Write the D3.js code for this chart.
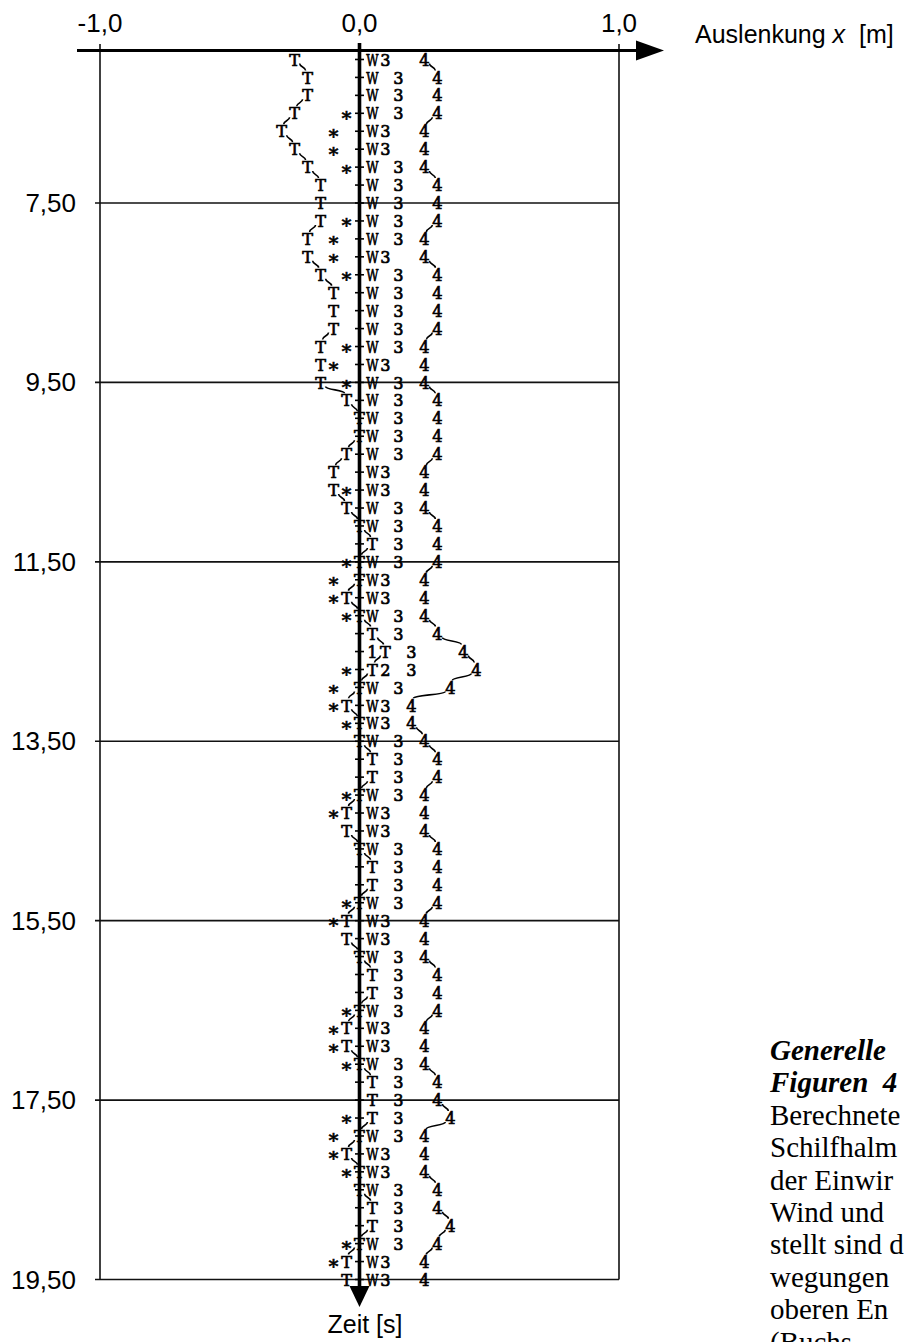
<!DOCTYPE html>
<html>
<head>
<meta charset="utf-8">
<script src="https://cdn.jsdelivr.net/npm/d3@7"></script>
<style>
  body { margin: 0; background: #fff; }
</style>
</head>
<body>
<script>
// Data: one printed row every 0.2 s
const times = [
  5.9, 6.1, 6.3, 6.5, 6.7, 6.9, 7.1, 7.3, 7.5, 7.7,
  7.9, 8.1, 8.3, 8.5, 8.7, 8.9, 9.1, 9.3, 9.5, 9.7,
  9.9, 10.1, 10.3, 10.5, 10.7, 10.9, 11.1, 11.3, 11.5, 11.7,
  11.9, 12.1, 12.3, 12.5, 12.7, 12.9, 13.1, 13.3, 13.5, 13.7,
  13.9, 14.1, 14.3, 14.5, 14.7, 14.9, 15.1, 15.3, 15.5, 15.7,
  15.9, 16.1, 16.3, 16.5, 16.7, 16.9, 17.1, 17.3, 17.5, 17.7,
  17.9, 18.1, 18.3, 18.5, 18.7, 18.9, 19.1, 19.3, 19.5
];

// "T" positions [m]
const seriesT = [
  -0.25, -0.20, -0.20, -0.25, -0.30, -0.25, -0.20, -0.15, -0.15, -0.15,
  -0.20, -0.20, -0.15, -0.10, -0.10, -0.10, -0.15, -0.15, -0.15, -0.05,
  0, 0, -0.05, -0.10, -0.10, -0.05, 0, 0.05, 0, 0,
  -0.05, 0, 0.05, 0.10, 0.05, 0, -0.05, 0, 0, 0.05,
  0.05, 0, -0.05, -0.05, 0, 0.05, 0.05, 0, -0.05, -0.05,
  0, 0.05, 0.05, 0, -0.05, -0.05, 0, 0.05, 0.05, 0.05,
  0, -0.05, 0, 0, 0.05, 0.05, 0, -0.05, -0.05
];

// "*" positions [m]
const seriesStar = [
  null, null, null, -0.05, -0.10, -0.10, -0.05, null, null, -0.05,
  -0.10, -0.10, -0.05, null, null, null, -0.05, -0.10, -0.05, null,
  null, null, null, null, -0.05, null, null, null, -0.05, -0.10,
  -0.10, -0.05, null, null, -0.05, -0.10, -0.10, -0.05, null, null,
  null, -0.05, -0.10, null, null, null, null, -0.05, -0.10, null,
  null, null, null, -0.05, -0.10, -0.10, -0.05, null, null, -0.05,
  -0.10, -0.10, -0.05, null, null, null, -0.05, -0.10, null
];

// "W" positions [m] (null where overprinted)
const seriesW = [
  0.05, 0.05, 0.05, 0.05, 0.05, 0.05, 0.05, 0.05, 0.05, 0.05,
  0.05, 0.05, 0.05, 0.05, 0.05, 0.05, 0.05, 0.05, 0.05, 0.05,
  0.05, 0.05, 0.05, 0.05, 0.05, 0.05, 0.05, null, 0.05, 0.05,
  0.05, 0.05, null, null, null, 0.05, 0.05, 0.05, 0.05, null,
  null, 0.05, 0.05, 0.05, 0.05, null, null, 0.05, 0.05, 0.05,
  0.05, null, null, 0.05, 0.05, 0.05, 0.05, null, null, null,
  0.05, 0.05, 0.05, 0.05, null, null, 0.05, 0.05, 0.05
];

// "3" positions [m]
const series3 = [
  0.10, 0.15, 0.15, 0.15, 0.10, 0.10, 0.15, 0.15, 0.15, 0.15,
  0.15, 0.10, 0.15, 0.15, 0.15, 0.15, 0.15, 0.10, 0.15, 0.15,
  0.15, 0.15, 0.15, 0.10, 0.10, 0.15, 0.15, 0.15, 0.15, 0.10,
  0.10, 0.15, 0.15, 0.20, 0.20, 0.15, 0.10, 0.10, 0.15, 0.15,
  0.15, 0.15, 0.10, 0.10, 0.15, 0.15, 0.15, 0.15, 0.10, 0.10,
  0.15, 0.15, 0.15, 0.15, 0.10, 0.10, 0.15, 0.15, 0.15, 0.15,
  0.15, 0.10, 0.10, 0.15, 0.15, 0.15, 0.15, 0.10, 0.10
];

// "4" positions [m]
const series4 = [
  0.25, 0.30, 0.30, 0.30, 0.25, 0.25, 0.25, 0.30, 0.30, 0.30,
  0.25, 0.25, 0.30, 0.30, 0.30, 0.30, 0.25, 0.25, 0.25, 0.30,
  0.30, 0.30, 0.30, 0.25, 0.25, 0.25, 0.30, 0.30, 0.30, 0.25,
  0.25, 0.25, 0.30, 0.40, 0.45, 0.35, 0.20, 0.20, 0.25, 0.30,
  0.30, 0.25, 0.25, 0.25, 0.30, 0.30, 0.30, 0.30, 0.25, 0.25,
  0.25, 0.30, 0.30, 0.30, 0.25, 0.25, 0.25, 0.30, 0.30, 0.35,
  0.25, 0.25, 0.25, 0.30, 0.30, 0.35, 0.30, 0.25, 0.25
];

// "1" and "2" only show up once each: [time, position]
const series1 = [[12.5, 0.05]];
const series2 = [[12.7, 0.10]];

// Axis ticks
const xTicks = [-1, 0, 1];
const yTicks = [7.5, 9.5, 11.5, 13.5, 15.5, 17.5, 19.5];

// Caption (cut off at the page edge)
const captionLines = [
  'Generelle', 'Figuren  4', 'Berechnete', 'Schilfhalm', 'der Einwir',
  'Wind und', 'stellt sind d', 'wegungen', 'oberen En', '(Buchs'
];

// Constants
const width = 905;
const height = 1342;
const sans = 'Liberation Sans, Arial, sans-serif';
const printer = 'DejaVu Serif, serif';
const serif = 'Liberation Serif, Times New Roman, serif';

const locale = d3.formatLocale({ decimal: ',', thousands: '.', grouping: [3], currency: ['', ''], minus: '-' });

// Scales
const x = d3.scaleLinear().domain([-1, 1]).range([100, 619]);
const y = d3.scaleLinear().domain([5.8, 19.5]).range([50.5, 1279.5]);

// Create SVG
const svg = d3.select('body')
  .append('svg')
  .attr('width', width)
  .attr('height', height)
  .style('display', 'block');

// Grid lines
svg.append('g')
  .selectAll('line')
  .data(yTicks)
  .join('line')
  .attr('x1', 95)
  .attr('x2', x(1))
  .attr('y1', d => y(d))
  .attr('y2', d => y(d))
  .attr('stroke', '#111')
  .attr('stroke-width', 1.6);

// Frame lines at -1 and 1
svg.append('g')
  .selectAll('line')
  .data([-1, 1])
  .join('line')
  .attr('x1', d => x(d))
  .attr('x2', d => x(d))
  .attr('y1', 44)
  .attr('y2', y(19.5))
  .attr('stroke', '#111')
  .attr('stroke-width', 1.6);

// Time labels
svg.append('g')
  .selectAll('text')
  .data(yTicks)
  .join('text')
  .attr('x', 76)
  .attr('y', d => y(d) + 9)
  .attr('text-anchor', 'end')
  .attr('font-family', sans)
  .attr('font-size', 26)
  .text(d => locale.format('.2f')(d));

// Top axis with arrow
const y0 = y(5.8);
svg.append('line')
  .attr('x1', 77)
  .attr('x2', 640)
  .attr('y1', y0)
  .attr('y2', y0)
  .attr('stroke', '#000')
  .attr('stroke-width', 3);
svg.append('path')
  .attr('d', d3.line()([[636, y0 - 10], [664, y0], [636, y0 + 10]]) + 'Z')
  .attr('fill', '#000');

svg.append('g')
  .selectAll('text')
  .data(xTicks)
  .join('text')
  .attr('x', d => x(d))
  .attr('y', 32)
  .attr('text-anchor', 'middle')
  .attr('font-family', sans)
  .attr('font-size', 26)
  .text(d => locale.format('.1f')(d));

const xTitle = svg.append('text')
  .attr('x', 695)
  .attr('y', 43)
  .attr('font-family', sans)
  .attr('font-size', 25);
xTitle.append('tspan').text('Auslenkung ');
xTitle.append('tspan').attr('font-style', 'italic').text('x');
xTitle.append('tspan').attr('dx', 7).text(' [m]');

// Time axis at 0 with arrow
const x0 = x(0);
svg.append('line')
  .attr('x1', x0)
  .attr('x2', x0)
  .attr('y1', 43)
  .attr('y2', 1289)
  .attr('stroke', '#000')
  .attr('stroke-width', 3.6);
svg.append('g')
  .selectAll('line')
  .data(times)
  .join('line')
  .attr('x1', x0 - 4.5)
  .attr('x2', x0 + 4.5)
  .attr('y1', d => y(d))
  .attr('y2', d => y(d))
  .attr('stroke', '#000')
  .attr('stroke-width', 1.6);
svg.append('path')
  .attr('d', d3.line()([[x0 - 10, 1286], [x0 + 10, 1286], [x0, 1307]]) + 'Z')
  .attr('fill', '#000');

svg.append('text')
  .attr('x', 365)
  .attr('y', 1333)
  .attr('text-anchor', 'middle')
  .attr('font-family', sans)
  .attr('font-size', 25)
  .text('Zeit [s]');

// Hand drawn connectors between rows where a series moves
const link = d3.linkVertical();
function drawConnectors(values) {
  const pairs = [];
  for (let i = 0; i < values.length - 1; i++) {
    if (values[i] == null || values[i + 1] == null || values[i] === values[i + 1]) continue;
    const dx = Math.sign(values[i + 1] - values[i]);
    pairs.push({
      source: [x(values[i]) + dx * 5, y(times[i]) + 4],
      target: [x(values[i + 1]) - dx * 2, y(times[i + 1]) - 7]
    });
  }
  svg.append('g')
    .selectAll('path')
    .data(pairs)
    .join('path')
    .attr('d', link)
    .attr('fill', 'none')
    .attr('stroke', '#000')
    .attr('stroke-width', 1.6);
}
drawConnectors(seriesT);
drawConnectors(series4);

// Printed characters (slab serif, squeezed to the printer pitch)
const glyphStyle = {
  W: { sx: 0.7, dy: 0.36, size: 17 },
  '*': { sx: 1, dy: 0.6, size: 19 },
  default: { sx: 0.95, dy: 0.36, size: 17 }
};
function drawGlyphs(points, ch) {
  const s = glyphStyle[ch] || glyphStyle.default;
  svg.append('g')
    .selectAll('text')
    .data(points.filter(d => d[1] != null))
    .join('text')
    .attr('transform', d => `translate(${x(d[1])},${y(d[0])}) scale(${s.sx},1)`)
    .attr('dy', s.dy + 'em')
    .attr('text-anchor', 'middle')
    .attr('font-family', printer)
    .attr('font-size', s.size)
    .attr('stroke', '#000')
    .attr('stroke-width', 0.7)
    .text(ch);
}
const rows = values => times.map((t, i) => [t, values[i]]);
drawGlyphs(rows(seriesW), 'W');
drawGlyphs(rows(series3), '3');
drawGlyphs(rows(series4), '4');
drawGlyphs(rows(seriesStar), '*');
drawGlyphs(rows(seriesT), 'T');
drawGlyphs(series1, '1');
drawGlyphs(series2, '2');

// Caption
svg.append('g')
  .selectAll('text')
  .data(captionLines)
  .join('text')
  .attr('x', 770)
  .attr('y', (d, i) => 1060 + i * 32.4)
  .attr('font-family', serif)
  .attr('font-size', 29)
  .attr('font-weight', (d, i) => i < 2 ? 'bold' : 'normal')
  .attr('font-style', (d, i) => i < 2 ? 'italic' : 'normal')
  .style('white-space', 'pre')
  .text(d => d);
</script>
</body>
</html>
